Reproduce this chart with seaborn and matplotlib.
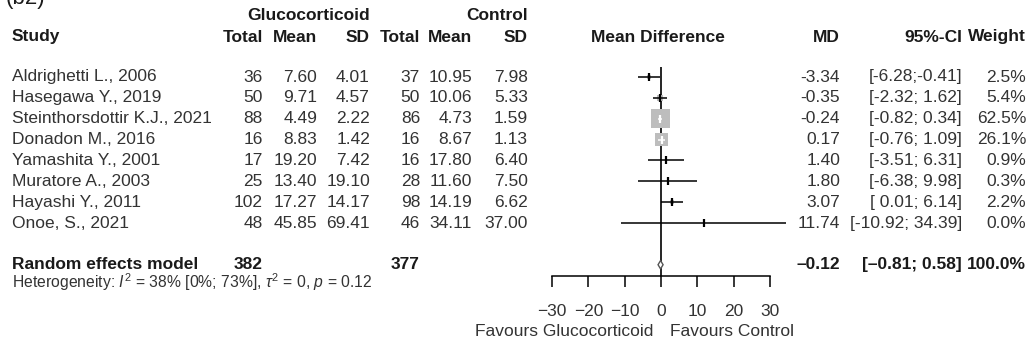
import matplotlib
matplotlib.use("Agg")
import matplotlib.pyplot as plt
import seaborn as sns

# ------------------------------------------------------------
# Data
# ------------------------------------------------------------
studies = ["Aldrighetti L., 2006", "Hasegawa Y., 2019", "Steinthorsdottir K.J., 2021",
           "Donadon M., 2016", "Yamashita Y., 2001", "Muratore A., 2003",
           "Hayashi Y., 2011", "Onoe, S., 2021"]
gc_total = [36, 50, 88, 16, 17, 25, 102, 48]
gc_mean = [7.60, 9.71, 4.49, 8.83, 19.20, 13.40, 17.27, 45.85]
gc_sd = [4.01, 4.57, 2.22, 1.42, 7.42, 19.10, 14.17, 69.41]
ct_total = [37, 50, 86, 16, 16, 28, 98, 46]
ct_mean = [10.95, 10.06, 4.73, 8.67, 17.80, 11.60, 14.19, 34.11]
ct_sd = [7.98, 5.33, 1.59, 1.13, 6.40, 7.50, 6.62, 37.00]
md = [-3.34, -0.35, -0.24, 0.17, 1.40, 1.80, 3.07, 11.74]
ci_low = [-6.28, -2.32, -0.82, -0.76, -3.51, -6.38, 0.01, -10.92]
ci_high = [-0.41, 1.62, 0.34, 1.09, 6.31, 9.98, 6.14, 34.39]
weight = [2.5, 5.4, 62.5, 26.1, 0.9, 0.3, 2.2, 0.0]

pooled_md = -0.12
pooled_low = -0.81
pooled_high = 0.58
pooled_gc_total = 382
pooled_ct_total = 377
het_text = r"Heterogeneity: $I^2$ = 38% [0%; 73%], $\tau^2$ = 0, $p$ = 0.12"

x_ticks = [-30, -20, -10, 0, 10, 20, 30]

# ------------------------------------------------------------
# Layout (pixels of the 1030 x 345 canvas)
# ------------------------------------------------------------
W, H = 1030, 345
ROW0, ROW_STEP = 77, 20.86
POOLED_ROW = 9
COLS = {"study": 12, "gc_total": 263, "gc_mean": 317, "gc_sd": 370,
        "ct_total": 420, "ct_mean": 472, "ct_sd": 528,
        "md": 840, "ci": 962, "weight": 1026}
FS = 12.5
TXT = "#333333"
BOLD = "#1a1a1a"
SQUARE = "#bdbdbd"


def row_px(i):
    return ROW0 + ROW_STEP * i


def fmt_ci(lo, hi, minus="-"):
    sep = ";" if hi < 0 else "; "
    s = f"[{lo:5.2f}{sep}{hi:.2f}]"
    return s.replace("-", minus)


sns.set_theme(style="white")
plt.rcParams["font.family"] = ["Liberation Sans", "DejaVu Sans"]
plt.rcParams["mathtext.fontset"] = "custom"
plt.rcParams["mathtext.rm"] = "Liberation Sans"
plt.rcParams["mathtext.it"] = "Liberation Sans:italic"

fig = plt.figure(figsize=(W / 100, H / 100), dpi=100)
fig.patch.set_facecolor("white")

# text layer in pixel coordinates
tx = fig.add_axes([0, 0, 1, 1])
tx.set_xlim(0, W)
tx.set_ylim(H, 0)
tx.axis("off")


def put(x, y, s, ha="right", bold=False, size=FS, **kw):
    tx.text(x, y, s, ha=ha, va="center", fontsize=size,
            fontweight="bold" if bold else "normal",
            color=BOLD if bold else TXT, **kw)


# panel label (cut off at the top edge)
tx.text(6, 4, "(b2)", ha="left", va="baseline", fontsize=16, color=BOLD)

# headers
put(COLS["gc_sd"], 15, "Glucocorticoid", bold=True)
put(COLS["ct_sd"], 15, "Control", bold=True)
hy = 37
put(COLS["study"], hy, "Study", ha="left", bold=True)
for key, lab in [("gc_total", "Total"), ("gc_mean", "Mean"), ("gc_sd", "SD"),
                 ("ct_total", "Total"), ("ct_mean", "Mean"), ("ct_sd", "SD"),
                 ("md", "MD"), ("ci", "95%-CI"), ("weight", "Weight")]:
    put(COLS[key], hy, lab, bold=True)
put(658, hy, "Mean Difference", ha="center", bold=True)

# study rows
for i, name in enumerate(studies):
    y = row_px(i)
    put(COLS["study"], y, name, ha="left")
    put(COLS["gc_total"], y, f"{gc_total[i]}")
    put(COLS["gc_mean"], y, f"{gc_mean[i]:.2f}")
    put(COLS["gc_sd"], y, f"{gc_sd[i]:.2f}")
    put(COLS["ct_total"], y, f"{ct_total[i]}")
    put(COLS["ct_mean"], y, f"{ct_mean[i]:.2f}")
    put(COLS["ct_sd"], y, f"{ct_sd[i]:.2f}")
    put(COLS["md"], y, f"{md[i]:.2f}")
    put(COLS["ci"], y, fmt_ci(ci_low[i], ci_high[i]))
    put(COLS["weight"], y, f"{weight[i]:.1f}%")

# pooled row
py = row_px(POOLED_ROW)
put(COLS["study"], py, "Random effects model", ha="left", bold=True)
put(COLS["gc_total"], py, f"{pooled_gc_total}", bold=True)
put(COLS["ct_total"], py, f"{pooled_ct_total}", bold=True)
put(COLS["md"], py, f"{pooled_md:.2f}".replace("-", "\u2013"), bold=True)
put(COLS["ci"], py, fmt_ci(pooled_low, pooled_high, "\u2013"), bold=True)
put(COLS["weight"], py, "100.0%", bold=True)
put(COLS["study"], 282, het_text, ha="left", size=11.3)

# ------------------------------------------------------------
# Forest panel
# ------------------------------------------------------------
xmin, xmax = -33, 38
px_per_unit = 3.633
left_px = 552 - (-30 - xmin) * px_per_unit
width_px = (xmax - xmin) * px_per_unit
top_px, bottom_px = 67, 276
ax = fig.add_axes([left_px / W, 1 - bottom_px / H, width_px / W, (bottom_px - top_px) / H])
ax.set_xlim(xmin, xmax)
ax.set_ylim((bottom_px - ROW0) / ROW_STEP, (top_px - ROW0) / ROW_STEP)
ax.patch.set_alpha(0)

rows = list(range(len(studies)))
ax.axvline(0, color="black", lw=1.2, zorder=1)

max_side_pt = 13.7
sns.scatterplot(x=md, y=rows, size=weight, sizes=(0, max_side_pt ** 2),
                size_norm=(0, max(weight)), marker="s", color=SQUARE,
                edgecolor=SQUARE, linewidth=0, legend=False, ax=ax, zorder=2)

for i in rows:
    side_units = max_side_pt * (weight[i] / max(weight)) ** 0.5 * (100 / 72) / px_per_unit
    inside = (ci_high[i] - ci_low[i]) < side_units
    c = "white" if inside else "black"
    ax.hlines(i, ci_low[i], ci_high[i], color=c, lw=1.1, zorder=3)
    ax.plot(md[i], i, marker="|", ms=5.5, mew=1.6, color=c, zorder=4)

dh = 0.2
ax.fill([pooled_low, pooled_md, pooled_high, pooled_md],
        [POOLED_ROW, POOLED_ROW - dh, POOLED_ROW, POOLED_ROW + dh],
        facecolor="white", edgecolor="#555555", lw=1.0, zorder=4)

for side in ["top", "left", "right"]:
    ax.spines[side].set_visible(False)
ax.spines["bottom"].set_bounds(x_ticks[0], x_ticks[-1])
ax.spines["bottom"].set_color("black")
ax.spines["bottom"].set_linewidth(1.1)
ax.set_yticks([])
ax.set_xticks(x_ticks)
ax.set_xticklabels([f"{t}".replace("-", "\u2212") for t in x_ticks])
ax.tick_params(axis="x", direction="out", length=8, width=1.1, color="black",
               labelsize=FS, labelcolor=TXT, pad=12, bottom=True)

ax.text(-2.2, (331 - ROW0) / ROW_STEP, "Favours Glucocorticoid", ha="right", va="center",
        fontsize=FS, color=TXT, clip_on=False)
ax.text(2.4, (331 - ROW0) / ROW_STEP, "Favours Control", ha="left", va="center",
        fontsize=FS, color=TXT, clip_on=False)

fig.savefig("out.png", dpi=100, facecolor="white")
